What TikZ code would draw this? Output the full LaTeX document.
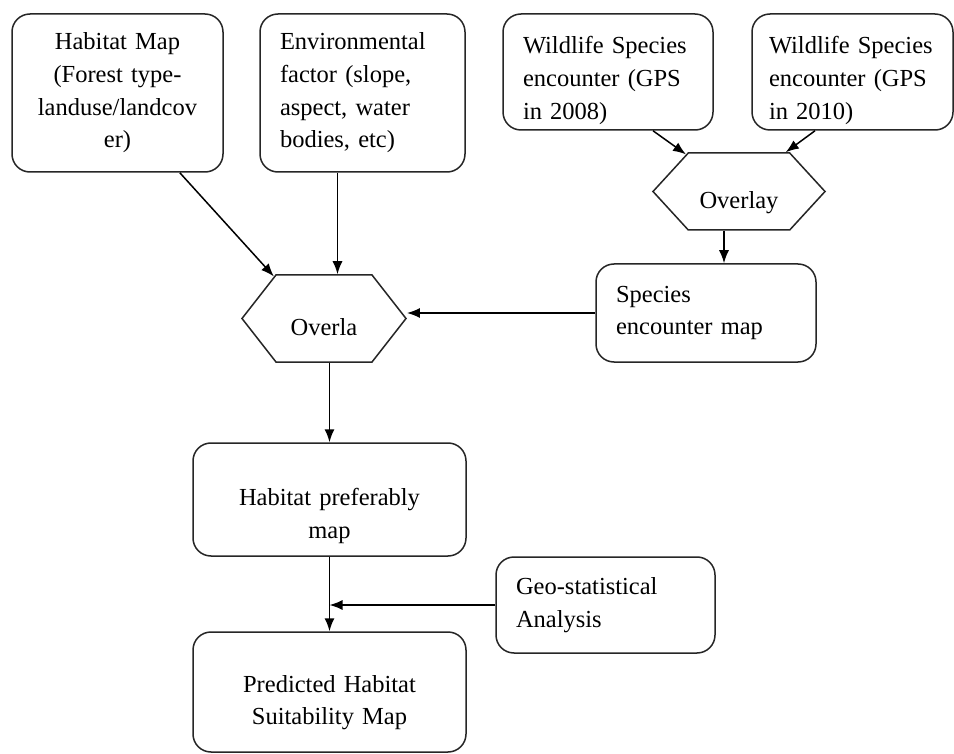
\documentclass[tikz,border=0pt]{standalone}
\usepackage{fontspec}
\setmainfont{Liberation Serif}
\usepackage{tikz}
\usetikzlibrary{shapes,shapes.symbols,arrows.meta,positioning}
\tikzstyle{block} = [rectangle, draw=black!85, line width=1.5pt, rounded corners=18pt, inner xsep=20pt, inner ysep=0pt, align=center, font=\fontsize{24.5}{32.7}\selectfont]
\tikzstyle{leftblock} = [block, align=left]
\tikzstyle{hexa} = [signal, signal to=east and west, draw=black!85, line width=1.5pt, inner sep=0pt, font=\fontsize{24.5}{32.7}\selectfont]
\tikzstyle{conn} = [draw, line width=1.5pt, ->]
\newcommand{\lift}[1]{\rule{0pt}{#1}}

\begin{document}
\begin{tikzpicture}[x=1pt, y=-1pt, >={Latex[length=13pt,width=10pt]}]
  \useasboundingbox[fill=white] (0,0) rectangle (954,754);
  \node[block, text width=171pt, minimum height=158pt] (habitat) at (117.5,93) {Habitat Map\\(Forest type-\\landuse/landcov\\er)};
  \node[leftblock, text width=165pt, minimum height=158pt] (env) at (362.5,93) {Environmental\\factor (slope,\\aspect, water\\bodies, etc)};
  \node[leftblock, text width=170pt, minimum height=116pt] (wild08) at (608,72) {\lift{34pt}Wildlife Species\\encounter (GPS\\in 2008)};
  \node[leftblock, inner xsep=17pt, text width=167pt, minimum height=116pt] (wild10) at (852.5,72) {\lift{34pt}Wildlife Species\\encounter (GPS\\in 2010)};
  \node[hexa, minimum width=172pt, minimum height=77pt, signal pointer angle=95] (overlay) at (739,191.5) {\lift{40pt}Overlay};
  \node[leftblock, text width=180pt, minimum height=98pt] (species) at (706,313) {Species\\encounter map};
  \node[hexa, minimum width=164pt, minimum height=87pt, signal pointer angle=104] (overla) at (324,318.5) {\lift{34pt}Overla};
  \node[block, text width=233pt, minimum height=113pt] (pref) at (329.5,499.5) {\lift{50pt}Habitat preferably\\map};
  \node[leftblock, text width=179pt, minimum height=96pt] (geo) at (605.5,605) {Geo-statistical\\Analysis};
  \node[block, text width=233pt, minimum height=120pt] (pred) at (329.5,692) {\lift{38pt}Predicted Habitat\\Suitability Map};

  \path[conn] (habitat.-52.6) -- (overla.140);
  \path[conn] ([xshift=-25pt]env.south) -- ([xshift=-25pt]env.south |- overla.north);
  \path[conn] ([xshift=45pt]wild08.south) -- (overlay.145);
  \path[conn] ([xshift=-37.5pt]wild10.south) -- (overlay.40);
  \path[conn] ([xshift=-15pt]overlay.south) -- ([xshift=-15pt]overlay.south |- species.north);
  \path[conn] (species.west) -- (species.west -| overla.east);
  \path[conn] (pref.north |- overla.south) -- (pref.north);
  \path[conn] (pref.south) -- (pred.north);
  \coordinate (join) at (pref.south |- geo.west);
  \path[conn] (geo.west) -- (join);
\end{tikzpicture}
\end{document}
